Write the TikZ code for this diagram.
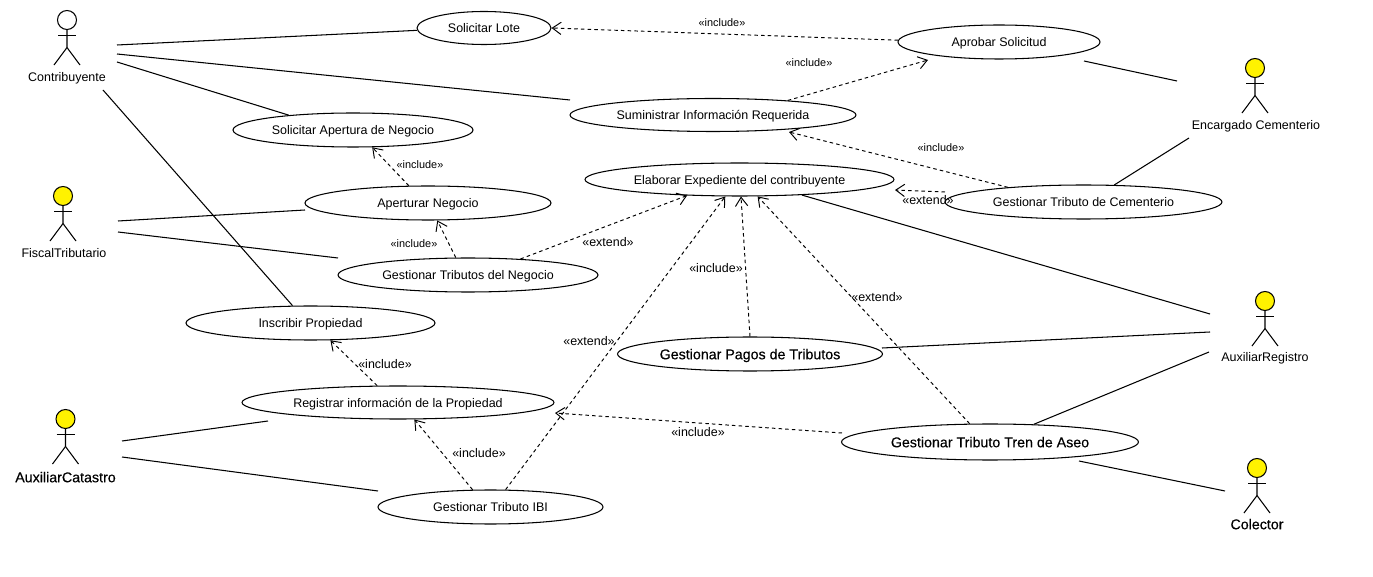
\documentclass[tikz,border=0pt]{standalone}
\usepackage{fontspec}
\setmainfont{Liberation Sans}
\newfontface\heavyface[FakeBold=0.3]{Liberation Sans}
\usetikzlibrary{arrows.meta}
\usetikzlibrary{shapes.geometric}

\tikzset{
  usecase/.style={draw=black,ellipse,line width=0.6pt,inner sep=-2cm,text height=1.9mm,text depth=0pt,font=\fontsize{7.1}{8}\selectfont},
  usecasebig/.style={usecase,text height=2.1mm,font=\heavyface\fontsize{8.1}{9}\selectfont},
  actorhead/.style={draw=black,circle,line width=0.6pt,minimum size=0.38cm,inner sep=0pt,fill=yellow},
  actorname/.style={font=\fontsize{7.1}{8}\selectfont,inner sep=0pt,text height=1.9mm,text depth=0pt},
  actornamebig/.style={font=\heavyface\fontsize{8.1}{9}\selectfont,inner sep=0pt,text height=2.1mm,text depth=0pt},
  assoc/.style={black,line width=0.6pt},
  dep/.style={black,line width=0.55pt,dash pattern=on 2pt off 1.8pt,-{Straight Barb[length=5pt,width=7pt]}},
  deplabel/.style={font=\fontsize{6.2}{7}\selectfont,inner sep=0pt},
  deplabelbig/.style={font=\fontsize{7.1}{8}\selectfont,inner sep=0pt}
}

\newcommand{\actorfig}[1]{
  \draw[assoc] (#1.south) -- ++(0,17.5) -- ++(-13,17.5);
  \draw[assoc] (#1.south) ++(0,17.5) -- ++(13,17.5);
  \draw[assoc] (#1.south) ++(-9,5.5) -- ++(18,0);
}

\begin{document}
\begin{tikzpicture}[x=0.02cm,y=-0.02cm]
\useasboundingbox (0,0) rectangle (1373,577);

% actors
\node[actorhead,fill=white] (contrib) at (67,20) {};
\actorfig{contrib}
\node[actorname] (contribname) at (67,77) {Contribuyente};
\node[actorhead] (fiscal) at (63,196) {};
\actorfig{fiscal}
\node[actorname] (fiscalname) at (64,253) {FiscalTributario};
\node[actorhead] (catastro) at (65.5,419) {};
\actorfig{catastro}
\node[actornamebig] (catastroname) at (65.5,477) {AuxiliarCatastro};
\node[actorhead] (encargado) at (1255,68) {};
\actorfig{encargado}
\node[actorname] (encargadoname) at (1256,125) {Encargado Cementerio};
\node[actorhead] (registro) at (1265,301) {};
\actorfig{registro}
\node[actorname] (registroname) at (1265,357) {AuxiliarRegistro};
\node[actorhead] (colector) at (1257,468) {};
\actorfig{colector}
\node[actornamebig] (colectorname) at (1257,524) {Colector};

% use cases
\node[usecase,minimum width=2.68cm,minimum height=0.66cm] (lote) at (484,28) {Solicitar Lote};
\node[usecase,minimum width=4.04cm,minimum height=0.68cm] (aprobar) at (999,42) {Aprobar Solicitud};
\node[usecase,minimum width=5.72cm,minimum height=0.66cm] (suministrar) at (713,115) {Suministrar Información Requerida};
\node[usecase,minimum width=4.80cm,minimum height=0.68cm] (solapertura) at (353,130) {Solicitar Apertura de Negocio};
\node[usecase,minimum width=6.18cm,minimum height=0.66cm] (expediente) at (739.5,179.5) {Elaborar Expediente del contribuyente};
\node[usecase,minimum width=5.54cm,minimum height=0.68cm] (cementerio) at (1083.5,202) {Gestionar Tributo de Cementerio};
\node[usecase,minimum width=4.92cm,minimum height=0.68cm] (apertura) at (428,203) {Aperturar Negocio};
\node[usecase,minimum width=5.20cm,minimum height=0.68cm] (negocio) at (468,275) {Gestionar Tributos del Negocio};
\node[usecase,minimum width=4.98cm,minimum height=0.68cm] (inscribir) at (310.5,323) {Inscribir Propiedad};
\node[usecasebig,minimum width=5.30cm,minimum height=0.68cm] (pagos) at (750,354) {Gestionar Pagos de Tributos};
\node[usecase,minimum width=6.24cm,minimum height=0.66cm] (reginfo) at (398,402.5) {Registrar información de la Propiedad};
\node[usecasebig,minimum width=5.94cm,minimum height=0.72cm] (tren) at (990,442) {Gestionar Tributo Tren de Aseo};
\node[usecase,minimum width=4.50cm,minimum height=0.68cm] (ibi) at (490.5,507) {Gestionar Tributo IBI};

% free ends
\coordinate (contriba) at (117,45);
\coordinate (contribb) at (117,54);
\coordinate (contribc) at (117,62);
\coordinate (contribd) at (103,90);
\coordinate (fiscala) at (118,221);
\coordinate (fiscalb) at (118,232);
\coordinate (catastroa) at (122,441);
\coordinate (catastrob) at (122,457);
\coordinate (encargadoa) at (1177,81);
\coordinate (encargadob) at (1189,138);
\coordinate (registroa) at (1210,314);
\coordinate (registrob) at (1210,332);
\coordinate (registroc) at (1209,352);
\coordinate (colectora) at (1225,491);
\coordinate (suministrarend) at (570,100);
\coordinate (aperturaend) at (305,210);
\coordinate (negocioend) at (338,258);
\coordinate (reginfoend) at (268,421);
\coordinate (ibiend) at (378,491);
\coordinate (aprobarend) at (1084,61);
\coordinate (pagosend) at (882,348);
\coordinate (trenend) at (1079,461);
\coordinate (tipaprobar) at (928,60);
\coordinate (tipsuministrar) at (789,132);
\coordinate (cementerioext) at (945,192);
\coordinate (tipexpediente) at (895,190);
\coordinate (trenext) at (842,433);
\coordinate (tipreginfo) at (555,413);

% associations
\draw[assoc] (contriba) -- (lote.182);
\draw[assoc] (contribb) -- (suministrarend);
\draw[assoc] (contribc) -- (solapertura.167);
\draw[assoc] (contribd) -- (inscribir.136);
\draw[assoc] (fiscala) -- (aperturaend);
\draw[assoc] (fiscalb) -- (negocioend);
\draw[assoc] (catastroa) -- (reginfoend);
\draw[assoc] (catastrob) -- (ibiend);
\draw[assoc] (aprobarend) -- (encargadoa);
\draw[assoc] (cementerio.29.4) -- (encargadob);
\draw[assoc] (expediente.346.7) -- (registroa);
\draw[assoc] (pagosend) -- (registrob);
\draw[assoc] (tren.22) -- (registroc);
\draw[assoc] (trenend) -- (colectora);

% dependencies
\draw[dep] (aprobar.179) -- (lote.east);
\draw[dep] (suministrar.11) -- (tipaprobar);
\draw[dep] (cementerio.169) -- (tipsuministrar);
\draw[dep] (cementerioext) -- (tipexpediente);
\draw[dep] (apertura.138.5) -- (solapertura.318.5);
\draw[dep] (negocio.125) -- (apertura.298);
\draw[dep] (negocio.17.8) -- (expediente.197.5);
\draw[dep] (ibi.49.4) -- (expediente.230.5);
\draw[dep] (pagos.north) -- (expediente.275);
\draw[dep] (tren.138) -- (expediente.317);
\draw[dep] (trenext) -- (tipreginfo);
\draw[dep] (reginfo.141) -- (inscribir.319);
\draw[dep] (ibi.136) -- (reginfo.314);

% labels
\node[deplabel] (inca) at (722,23) {«include»};
\node[deplabel] (incb) at (809,63) {«include»};
\node[deplabel] (incc) at (941,148) {«include»};
\node[deplabelbig] (extcem) at (928,200) {«extend»};
\node[deplabel] (incd) at (420,165) {«include»};
\node[deplabel] (ince) at (414,244) {«include»};
\node[deplabelbig] (extneg) at (608,242) {«extend»};
\node[deplabelbig] (extibi) at (589,341) {«extend»};
\node[deplabelbig] (incpagos) at (716,268) {«include»};
\node[deplabelbig] (exttren) at (877,297) {«extend»};
\node[deplabelbig] (inctren) at (698,432) {«include»};
\node[deplabelbig] (increg) at (385,364) {«include»};
\node[deplabelbig] (incibi) at (479,453) {«include»};

\end{tikzpicture}
\end{document}
